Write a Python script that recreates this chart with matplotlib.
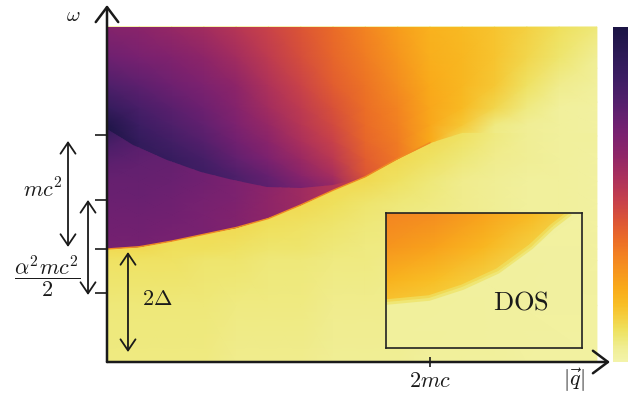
import numpy as np
import matplotlib
matplotlib.use("Agg")
import matplotlib.pyplot as plt
from matplotlib.colors import LinearSegmentedColormap
from matplotlib.patches import Polygon

plt.rcParams['mathtext.fontset'] = 'cm'
plt.rcParams['font.family'] = 'DejaVu Serif'

# ---------------- data ----------------
# momentum columns (units: 2mc = 2) and energy rows (units: 2Delta = 1)
q_cols = [0.0, 0.2, 0.4, 0.6, 0.8, 1.0, 1.2, 1.4, 1.6, 1.8, 2.0, 2.2, 2.4, 2.6, 2.8, 3.034]

# lower (yellow) continuum
low_omega = [0.0, 0.5, 0.9, 1.0, 1.2, 1.4, 1.6, 1.8, 2.0, 2.3, 2.6, 2.965]
low_values = [
    [.06, .06, .06, .06, .05, .05, .05, .04, .04, .04, .03, .03, .03, .02, .02, .02],
    [.07, .07, .07, .07, .06, .06, .06, .05, .05, .05, .04, .04, .03, .03, .02, .02],
    [.09, .09, .09, .08, .08, .07, .07, .06, .06, .05, .05, .04, .04, .03, .03, .02],
    [.11, .11, .10, .10, .09, .08, .08, .07, .06, .06, .05, .04, .04, .03, .03, .02],
    [.11, .11, .11, .11, .11, .10, .09, .08, .07, .06, .05, .05, .04, .03, .03, .02],
    [.11, .11, .11, .11, .11, .11, .11, .10, .08, .07, .06, .05, .04, .03, .03, .02],
    [.11, .11, .11, .11, .11, .11, .11, .11, .11, .09, .07, .05, .04, .03, .03, .02],
    [.11, .11, .11, .11, .11, .11, .11, .11, .11, .11, .09, .07, .05, .04, .03, .02],
    [.11, .11, .11, .11, .11, .11, .11, .11, .11, .11, .11, .09, .06, .04, .03, .03],
    [.10, .10, .10, .10, .10, .10, .10, .10, .10, .10, .10, .10, .07, .05, .04, .03],
    [.09, .09, .09, .09, .09, .09, .09, .09, .09, .09, .09, .09, .09, .07, .05, .04],
    [.08, .08, .08, .08, .08, .08, .08, .08, .08, .08, .08, .08, .08, .08, .07, .06],
]

# upper continuum (above the gap edge), one list per q column
top_omega = [1.0, 1.3, 1.5, 1.65, 1.8, 1.95, 2.1, 2.25, 2.45, 2.7, 2.965]
top_columns = [
    [1.00, 1.00, 1.00, 1.00, 1.00, 1.00, .97, .88, .79, .71, .65],   # q=0
    [.90, .90, .90, .90, .90, .89, .85, .81, .75, .68, .63],         # q=0.2
    [.87, .87, .87, .87, .87, .83, .79, .76, .71, .66, .60],         # q=0.4
    [.85, .85, .85, .85, .82, .77, .74, .71, .67, .62, .57],         # q=0.6
    [.80, .80, .80, .79, .74, .70, .67, .65, .62, .57, .52],         # q=0.8
    [.76, .76, .76, .73, .67, .63, .60, .57, .54, .50, .47],         # q=1.0
    [.70, .70, .70, .64, .59, .55, .52, .50, .47, .44, .42],         # q=1.2
    [.64, .64, .64, .56, .51, .48, .45, .43, .40, .38, .37],         # q=1.4
    [.44, .44, .44, .42, .40, .38, .37, .36, .35, .33, .31],         # q=1.6
    [.36, .36, .36, .35, .34, .33, .32, .31, .29, .27, .25],         # q=1.8
    [.22, .22, .22, .22, .22, .22, .23, .23, .22, .21, .20],         # q=2.0
    [.09, .09, .09, .09, .09, .09, .15, .18, .19, .19, .18],         # q=2.2
    [.05, .05, .05, .05, .05, .05, .06, .12, .15, .16, .16],         # q=2.4
    [.04, .04, .04, .04, .04, .04, .04, .06, .09, .12, .13],         # q=2.6
    [.03, .03, .03, .03, .03, .03, .03, .03, .05, .08, .10],         # q=2.8
    [.02, .02, .02, .02, .02, .02, .02, .02, .03, .04, .07],         # q=3.03
]

# region between gap edge and the dark ridge, one list per q column
mid_q = [0.0, 0.2, 0.4, 0.6, 0.8, 1.0, 1.2, 1.4, 1.6]
mid_omega = [1.0, 1.15, 1.3, 1.45, 1.6, 1.75, 1.9, 2.05, 2.1]
mid_columns = [
    [.69, .70, .71, .72, .73, .75, .80, .88, .90],
    [.69, .70, .71, .72, .73, .74, .76, .76, .76],
    [.68, .69, .70, .71, .72, .73, .73, .73, .73],
    [.67, .68, .68, .69, .70, .70, .70, .70, .70],
    [.65, .66, .66, .67, .67, .67, .67, .67, .67],
    [.62, .62, .62, .62, .63, .63, .63, .63, .63],
    [.58, .58, .58, .58, .58, .58, .58, .58, .58],
    [.53, .53, .53, .53, .53, .53, .53, .53, .53],
    [.48, .48, .48, .48, .48, .48, .48, .48, .48],
]

# gap edge (sharp part), where it fades out, and the dark ridge
edge_q = [0.0, 0.2, 0.4, 0.6, 0.8, 1.0, 1.2, 1.4, 1.6, 1.8, 2.0]
edge_omega = [1.0, 1.02, 1.07, 1.13, 1.19, 1.27, 1.39, 1.52, 1.64, 1.8, 1.94]
fade_q = [2.2, 3.034]
fade_omega = [2.03, 2.03]
ridge_q = [0.0, 0.16, 0.37, 0.58, 0.78, 0.99, 1.2, 1.4, 1.57]
ridge_omega = [2.06, 1.92, 1.79, 1.68, 1.61, 1.55, 1.54, 1.57, 1.63]

# y ticks and x tick
ytick_pos = [0.611, 1.0, 1.434, 2.009]
xtick_pos = [2.0]
xtick_labels = [r'$2mc$']

# inset (DOS), in inset fractions
inset_x = [0.0, 0.25, 0.5, 0.75, 1.0]
inset_top_y = [0.3, 0.5, 0.75, 1.0]
inset_top_values = [
    [.15, .13, .10, .08, .08],
    [.20, .17, .13, .08, .08],
    [.27, .24, .19, .13, .08],
    [.31, .29, .24, .18, .12],
]
inset_low_x = [0.0, 1.0]
inset_low_y = [0.0, 1.0]
inset_low_values = [[.03, .02], [.03, .02]]
inset_edge_x = [0.0, 0.22, 0.39, 0.57, 0.74, 0.85, 0.94]
inset_edge_y = [0.34, 0.37, 0.45, 0.57, 0.75, 0.90, 1.0]

# colour map stops (0 = pale yellow, 1 = dark)
cmap_stops = [0.0, .04, .07, .10, .13, .17, .22, .27, .32, .37, .42, .48, .55, .62,
              .68, .72, .78, .85, .92, 1.0]
cmap_colors = ['#f3f3aa', '#f0ee95', '#eee775', '#efdf5a', '#f4d042', '#f8be25',
               '#f9aa1a', '#f6951e', '#f28022', '#ea6a28', '#dc5535', '#c7404b',
               '#ab305c', '#8e2568', '#7a2170', '#6a2070', '#521f6c', '#3c1d63',
               '#2c1a56', '#1b1444']

# ---------------- drawing ----------------
cmap = LinearSegmentedColormap.from_list('dos', list(zip(cmap_stops, cmap_colors)))
ink = '#1a1a1a'

fig = plt.figure(figsize=(6.41, 3.94), dpi=100)
ax = fig.add_axes([107 / 641, 32 / 394, 503 / 641, 357 / 394])
ax.set_xlim(0, 3.115)
ax.set_ylim(0, 3.159)
for s in ax.spines.values():
    s.set_visible(False)
ax.set_axisbelow(False)

m_low = ax.pcolormesh(q_cols, low_omega, np.array(low_values), cmap=cmap,
                      vmin=0, vmax=1, shading='gouraud', zorder=1)

top_poly = Polygon(list(zip(edge_q + fade_q + [q_cols[-1], 0.0],
                            edge_omega + fade_omega + [top_omega[-1], top_omega[-1]])),
                   closed=True, transform=ax.transData)
m_top = ax.pcolormesh(q_cols, top_omega, np.array(top_columns).T, cmap=cmap,
                      vmin=0, vmax=1, shading='gouraud', zorder=1.1)
m_top.set_clip_path(top_poly)

mid_poly = Polygon(list(zip(edge_q[:8] + ridge_q[::-1], edge_omega[:8] + ridge_omega[::-1])),
                   closed=True, transform=ax.transData)
m_mid = ax.pcolormesh(mid_q, mid_omega, np.array(mid_columns).T, cmap=cmap,
                      vmin=0, vmax=1, shading='gouraud', zorder=1.2)
m_mid.set_clip_path(mid_poly)

ax.plot(edge_q, edge_omega, color='#f08a22', lw=1.0, zorder=1.3)

# axes arrows
for tip in [(0, 1), (1, 0)]:
    ax.annotate('', xy=tip, xycoords='axes fraction', xytext=(0, 0),
                arrowprops=dict(arrowstyle='->, head_length=0.4, head_width=0.3',
                                lw=1.8, color=ink, mutation_scale=27, shrinkA=0, shrinkB=0),
                zorder=4)

ax.set_yticks(ytick_pos)
ax.set_yticklabels([])
ax.tick_params(axis='y', direction='out', length=8.6, width=1.2, color=ink)
ax.set_xticks(xtick_pos)
ax.set_xticklabels(xtick_labels, fontsize=16, color=ink)
ax.tick_params(axis='x', direction='inout', length=7.5, width=1.2, color=ink, pad=2)

# double arrows
def dbl(x, y0, y1):
    ax.annotate('', xy=(x, y1), xytext=(x, y0), xycoords='data',
                arrowprops=dict(arrowstyle='<->, head_length=0.4, head_width=0.27',
                                lw=1.3, color=ink, mutation_scale=20, shrinkA=0, shrinkB=0),
                annotation_clip=False, zorder=4)

dbl(-0.2415, 1.956, 1.018)
dbl(-0.1176, 1.434, 0.593)
dbl(0.13, 0.973, 0.088)

ax.text(-0.21, 3.07, r'$\omega$', fontsize=15, ha='center', va='center', color=ink, clip_on=False)
ax.text(-0.40, 1.52, r'$mc^2$', fontsize=16, ha='center', va='center', color=ink, clip_on=False)
ax.text(-0.37, 0.76, r'$\dfrac{\alpha^2 mc^2}{2}$', fontsize=16, ha='center', va='center',
        color=ink, clip_on=False)
ax.text(0.31, 0.56, r'$2\Delta$', fontsize=16, ha='center', va='center', color=ink)
ax.text(2.89, -0.16, r'$|\vec{q}|$', fontsize=16, ha='center', va='center', color=ink, clip_on=False)

# inset
ins = ax.inset_axes([1.728, 0.124, 1.213, 1.195], transform=ax.transData, zorder=3)
ins.set_xlim(0, 1)
ins.set_ylim(0, 1)
ins.set_xticks([])
ins.set_yticks([])
for s in ins.spines.values():
    s.set_linewidth(1.2)
    s.set_color('#222222')
ins.pcolormesh(inset_low_x, inset_low_y, np.array(inset_low_values), cmap=cmap,
               vmin=0, vmax=1, shading='gouraud')
ins_poly = Polygon(list(zip(inset_edge_x + [0.0], inset_edge_y + [1.0])), closed=True,
                   transform=ins.transData)
mi = ins.pcolormesh(inset_x, inset_top_y, np.array(inset_top_values), cmap=cmap,
                    vmin=0, vmax=1, shading='gouraud')
mi.set_clip_path(ins_poly)
ins.plot(inset_edge_x, inset_edge_y, color=cmap(0.09), lw=4, alpha=0.7,
         solid_capstyle='butt')
ins.text(0.69, 0.34, r'$\mathrm{DOS}$', fontsize=19, ha='center', va='center', color=ink)

# colour bar
cax = fig.add_axes([613 / 641, 32 / 394, 15 / 641, 335 / 394])
cb = fig.colorbar(m_low, cax=cax)
cb.set_ticks([])
cb.outline.set_visible(False)

fig.savefig('out.png', dpi=100)
